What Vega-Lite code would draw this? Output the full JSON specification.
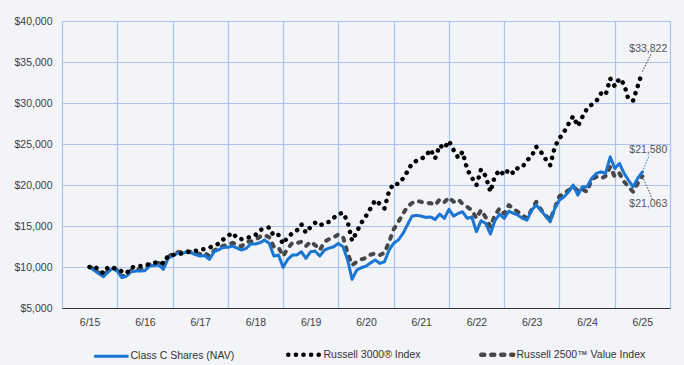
{
  "$schema": "https://vega.github.io/schema/vega-lite/v6.json",
  "autosize": "none",
  "width": 608,
  "height": 287,
  "padding": {"left": 62, "top": 21, "right": 14, "bottom": 57},
  "background": "#f2f4f8",
  "config": {
    "view": {"stroke": null},
    "font": "Liberation Sans",
    "axis": {"gridColor": "#a9c5ef", "gridWidth": 1.2, "labelFont": "Liberation Sans", "labelFontSize": 10.5, "labelColor": "#404040", "title": null},
    "legend": {"labelFont": "Liberation Sans"}
  },
  "data": {"values": [
    {"date":"2015-06-01","Class C Shares (NAV)":10000,"Russell 3000® Index":10000,"Russell 2500™ Value Index":10000},
    {"date":"2015-07-01","Class C Shares (NAV)":9600,"Russell 3000® Index":10117,"Russell 2500™ Value Index":9800},
    {"date":"2015-08-01","Class C Shares (NAV)":9200,"Russell 3000® Index":9630,"Russell 2500™ Value Index":9300},
    {"date":"2015-09-01","Class C Shares (NAV)":8810,"Russell 3000® Index":9230,"Russell 2500™ Value Index":9000},
    {"date":"2015-10-01","Class C Shares (NAV)":9400,"Russell 3000® Index":9960,"Russell 2500™ Value Index":9500},
    {"date":"2015-11-01","Class C Shares (NAV)":9840,"Russell 3000® Index":9950,"Russell 2500™ Value Index":9900},
    {"date":"2015-12-01","Class C Shares (NAV)":9500,"Russell 3000® Index":9715,"Russell 2500™ Value Index":9600},
    {"date":"2016-01-01","Class C Shares (NAV)":8700,"Russell 3000® Index":9450,"Russell 2500™ Value Index":8850},
    {"date":"2016-02-01","Class C Shares (NAV)":8900,"Russell 3000® Index":9230,"Russell 2500™ Value Index":9000},
    {"date":"2016-03-01","Class C Shares (NAV)":9420,"Russell 3000® Index":9960,"Russell 2500™ Value Index":9600},
    {"date":"2016-04-01","Class C Shares (NAV)":9500,"Russell 3000® Index":10000,"Russell 2500™ Value Index":9700},
    {"date":"2016-05-01","Class C Shares (NAV)":9510,"Russell 3000® Index":10117,"Russell 2500™ Value Index":9750},
    {"date":"2016-06-01","Class C Shares (NAV)":9550,"Russell 3000® Index":10200,"Russell 2500™ Value Index":9800},
    {"date":"2016-07-01","Class C Shares (NAV)":10120,"Russell 3000® Index":10360,"Russell 2500™ Value Index":10300},
    {"date":"2016-08-01","Class C Shares (NAV)":10200,"Russell 3000® Index":10500,"Russell 2500™ Value Index":10400},
    {"date":"2016-09-01","Class C Shares (NAV)":10240,"Russell 3000® Index":10640,"Russell 2500™ Value Index":10500},
    {"date":"2016-10-01","Class C Shares (NAV)":9720,"Russell 3000® Index":10440,"Russell 2500™ Value Index":10000},
    {"date":"2016-11-01","Class C Shares (NAV)":11050,"Russell 3000® Index":11340,"Russell 2500™ Value Index":11200},
    {"date":"2016-12-01","Class C Shares (NAV)":11350,"Russell 3000® Index":11460,"Russell 2500™ Value Index":11600},
    {"date":"2017-01-01","Class C Shares (NAV)":11660,"Russell 3000® Index":11550,"Russell 2500™ Value Index":11800},
    {"date":"2017-02-01","Class C Shares (NAV)":11700,"Russell 3000® Index":11650,"Russell 2500™ Value Index":11850},
    {"date":"2017-03-01","Class C Shares (NAV)":11800,"Russell 3000® Index":11790,"Russell 2500™ Value Index":11950},
    {"date":"2017-04-01","Class C Shares (NAV)":11740,"Russell 3000® Index":11850,"Russell 2500™ Value Index":11850},
    {"date":"2017-05-01","Class C Shares (NAV)":11500,"Russell 3000® Index":11980,"Russell 2500™ Value Index":11700},
    {"date":"2017-06-01","Class C Shares (NAV)":11340,"Russell 3000® Index":12100,"Russell 2500™ Value Index":11600},
    {"date":"2017-07-01","Class C Shares (NAV)":11400,"Russell 3000® Index":12200,"Russell 2500™ Value Index":11750},
    {"date":"2017-08-01","Class C Shares (NAV)":10930,"Russell 3000® Index":12350,"Russell 2500™ Value Index":11300},
    {"date":"2017-09-01","Class C Shares (NAV)":11860,"Russell 3000® Index":12600,"Russell 2500™ Value Index":12000},
    {"date":"2017-10-01","Class C Shares (NAV)":12100,"Russell 3000® Index":12830,"Russell 2500™ Value Index":12300},
    {"date":"2017-11-01","Class C Shares (NAV)":12390,"Russell 3000® Index":13370,"Russell 2500™ Value Index":12600},
    {"date":"2017-12-01","Class C Shares (NAV)":12400,"Russell 3000® Index":13800,"Russell 2500™ Value Index":12700},
    {"date":"2018-01-01","Class C Shares (NAV)":12550,"Russell 3000® Index":14170,"Russell 2500™ Value Index":12960},
    {"date":"2018-02-01","Class C Shares (NAV)":12300,"Russell 3000® Index":13490,"Russell 2500™ Value Index":12700},
    {"date":"2018-03-01","Class C Shares (NAV)":12070,"Russell 3000® Index":13400,"Russell 2500™ Value Index":12500},
    {"date":"2018-04-01","Class C Shares (NAV)":12270,"Russell 3000® Index":13490,"Russell 2500™ Value Index":13080},
    {"date":"2018-05-01","Class C Shares (NAV)":12800,"Russell 3000® Index":13700,"Russell 2500™ Value Index":13100},
    {"date":"2018-06-01","Class C Shares (NAV)":12800,"Russell 3000® Index":13900,"Russell 2500™ Value Index":13300},
    {"date":"2018-07-01","Class C Shares (NAV)":12960,"Russell 3000® Index":14500,"Russell 2500™ Value Index":13690},
    {"date":"2018-08-01","Class C Shares (NAV)":13280,"Russell 3000® Index":14700,"Russell 2500™ Value Index":13900},
    {"date":"2018-09-01","Class C Shares (NAV)":12880,"Russell 3000® Index":14830,"Russell 2500™ Value Index":13610},
    {"date":"2018-10-01","Class C Shares (NAV)":11330,"Russell 3000® Index":13770,"Russell 2500™ Value Index":12470},
    {"date":"2018-11-01","Class C Shares (NAV)":11460,"Russell 3000® Index":13900,"Russell 2500™ Value Index":12390},
    {"date":"2018-12-01","Class C Shares (NAV)":9960,"Russell 3000® Index":12800,"Russell 2500™ Value Index":11340},
    {"date":"2019-01-01","Class C Shares (NAV)":10930,"Russell 3000® Index":13690,"Russell 2500™ Value Index":12270},
    {"date":"2019-02-01","Class C Shares (NAV)":11460,"Russell 3000® Index":14100,"Russell 2500™ Value Index":12960},
    {"date":"2019-03-01","Class C Shares (NAV)":11460,"Russell 3000® Index":14420,"Russell 2500™ Value Index":12900},
    {"date":"2019-04-01","Class C Shares (NAV)":11860,"Russell 3000® Index":15200,"Russell 2500™ Value Index":13080},
    {"date":"2019-05-01","Class C Shares (NAV)":11060,"Russell 3000® Index":14170,"Russell 2500™ Value Index":12550},
    {"date":"2019-06-01","Class C Shares (NAV)":11860,"Russell 3000® Index":14900,"Russell 2500™ Value Index":13080},
    {"date":"2019-07-01","Class C Shares (NAV)":11940,"Russell 3000® Index":15390,"Russell 2500™ Value Index":12680},
    {"date":"2019-08-01","Class C Shares (NAV)":11340,"Russell 3000® Index":15030,"Russell 2500™ Value Index":12070},
    {"date":"2019-09-01","Class C Shares (NAV)":12070,"Russell 3000® Index":15400,"Russell 2500™ Value Index":13080},
    {"date":"2019-10-01","Class C Shares (NAV)":12300,"Russell 3000® Index":15510,"Russell 2500™ Value Index":13400},
    {"date":"2019-11-01","Class C Shares (NAV)":12470,"Russell 3000® Index":16000,"Russell 2500™ Value Index":13610},
    {"date":"2019-12-01","Class C Shares (NAV)":12880,"Russell 3000® Index":16450,"Russell 2500™ Value Index":13970},
    {"date":"2020-01-01","Class C Shares (NAV)":12470,"Russell 3000® Index":16610,"Russell 2500™ Value Index":13690},
    {"date":"2020-02-01","Class C Shares (NAV)":10850,"Russell 3000® Index":15510,"Russell 2500™ Value Index":11660},
    {"date":"2020-03-01","Class C Shares (NAV)":8500,"Russell 3000® Index":13200,"Russell 2500™ Value Index":10240},
    {"date":"2020-04-01","Class C Shares (NAV)":9630,"Russell 3000® Index":14300,"Russell 2500™ Value Index":10640},
    {"date":"2020-05-01","Class C Shares (NAV)":9920,"Russell 3000® Index":15390,"Russell 2500™ Value Index":10930},
    {"date":"2020-06-01","Class C Shares (NAV)":10100,"Russell 3000® Index":16210,"Russell 2500™ Value Index":11100},
    {"date":"2020-07-01","Class C Shares (NAV)":10500,"Russell 3000® Index":17150,"Russell 2500™ Value Index":11500},
    {"date":"2020-08-01","Class C Shares (NAV)":10850,"Russell 3000® Index":18160,"Russell 2500™ Value Index":11660},
    {"date":"2020-09-01","Class C Shares (NAV)":10440,"Russell 3000® Index":17670,"Russell 2500™ Value Index":11460},
    {"date":"2020-10-01","Class C Shares (NAV)":10640,"Russell 3000® Index":17150,"Russell 2500™ Value Index":11740},
    {"date":"2020-11-01","Class C Shares (NAV)":12070,"Russell 3000® Index":19290,"Russell 2500™ Value Index":13080},
    {"date":"2020-12-01","Class C Shares (NAV)":12900,"Russell 3000® Index":20190,"Russell 2500™ Value Index":14590},
    {"date":"2021-01-01","Class C Shares (NAV)":13300,"Russell 3000® Index":20110,"Russell 2500™ Value Index":15500},
    {"date":"2021-02-01","Class C Shares (NAV)":14100,"Russell 3000® Index":20800,"Russell 2500™ Value Index":16500},
    {"date":"2021-03-01","Class C Shares (NAV)":15110,"Russell 3000® Index":21610,"Russell 2500™ Value Index":17340},
    {"date":"2021-04-01","Class C Shares (NAV)":16210,"Russell 3000® Index":22630,"Russell 2500™ Value Index":17800},
    {"date":"2021-05-01","Class C Shares (NAV)":16300,"Russell 3000® Index":22950,"Russell 2500™ Value Index":18070},
    {"date":"2021-06-01","Class C Shares (NAV)":16210,"Russell 3000® Index":23200,"Russell 2500™ Value Index":17950},
    {"date":"2021-07-01","Class C Shares (NAV)":16050,"Russell 3000® Index":23520,"Russell 2500™ Value Index":17750},
    {"date":"2021-08-01","Class C Shares (NAV)":16100,"Russell 3000® Index":24340,"Russell 2500™ Value Index":17800},
    {"date":"2021-09-01","Class C Shares (NAV)":15800,"Russell 3000® Index":23240,"Russell 2500™ Value Index":17550},
    {"date":"2021-10-01","Class C Shares (NAV)":16450,"Russell 3000® Index":24860,"Russell 2500™ Value Index":18240},
    {"date":"2021-11-01","Class C Shares (NAV)":15930,"Russell 3000® Index":24450,"Russell 2500™ Value Index":17900},
    {"date":"2021-12-01","Class C Shares (NAV)":17030,"Russell 3000® Index":25380,"Russell 2500™ Value Index":18490},
    {"date":"2022-01-01","Class C Shares (NAV)":16210,"Russell 3000® Index":24250,"Russell 2500™ Value Index":17950},
    {"date":"2022-02-01","Class C Shares (NAV)":16540,"Russell 3000® Index":23310,"Russell 2500™ Value Index":18240},
    {"date":"2022-03-01","Class C Shares (NAV)":16730,"Russell 3000® Index":24040,"Russell 2500™ Value Index":17700},
    {"date":"2022-04-01","Class C Shares (NAV)":15930,"Russell 3000® Index":21900,"Russell 2500™ Value Index":17340},
    {"date":"2022-05-01","Class C Shares (NAV)":16100,"Russell 3000® Index":20920,"Russell 2500™ Value Index":16940},
    {"date":"2022-06-01","Class C Shares (NAV)":14300,"Russell 3000® Index":19990,"Russell 2500™ Value Index":15930},
    {"date":"2022-07-01","Class C Shares (NAV)":15640,"Russell 3000® Index":21900,"Russell 2500™ Value Index":16940},
    {"date":"2022-08-01","Class C Shares (NAV)":15320,"Russell 3000® Index":21080,"Russell 2500™ Value Index":16050},
    {"date":"2022-09-01","Class C Shares (NAV)":14020,"Russell 3000® Index":19170,"Russell 2500™ Value Index":14900},
    {"date":"2022-10-01","Class C Shares (NAV)":15640,"Russell 3000® Index":21080,"Russell 2500™ Value Index":16330},
    {"date":"2022-11-01","Class C Shares (NAV)":16450,"Russell 3000® Index":21810,"Russell 2500™ Value Index":17150},
    {"date":"2022-12-01","Class C Shares (NAV)":15930,"Russell 3000® Index":21200,"Russell 2500™ Value Index":16500},
    {"date":"2023-01-01","Class C Shares (NAV)":16800,"Russell 3000® Index":21900,"Russell 2500™ Value Index":17550},
    {"date":"2023-02-01","Class C Shares (NAV)":16540,"Russell 3000® Index":21410,"Russell 2500™ Value Index":17100},
    {"date":"2023-03-01","Class C Shares (NAV)":16330,"Russell 3000® Index":22090,"Russell 2500™ Value Index":16730},
    {"date":"2023-04-01","Class C Shares (NAV)":15930,"Russell 3000® Index":22200,"Russell 2500™ Value Index":16300},
    {"date":"2023-05-01","Class C Shares (NAV)":15720,"Russell 3000® Index":23000,"Russell 2500™ Value Index":15930},
    {"date":"2023-06-01","Class C Shares (NAV)":16940,"Russell 3000® Index":23520,"Russell 2500™ Value Index":17000},
    {"date":"2023-07-01","Class C Shares (NAV)":17550,"Russell 3000® Index":24660,"Russell 2500™ Value Index":17950},
    {"date":"2023-08-01","Class C Shares (NAV)":16900,"Russell 3000® Index":24040,"Russell 2500™ Value Index":17000},
    {"date":"2023-09-01","Class C Shares (NAV)":16200,"Russell 3000® Index":23150,"Russell 2500™ Value Index":16300},
    {"date":"2023-10-01","Class C Shares (NAV)":15510,"Russell 3000® Index":22420,"Russell 2500™ Value Index":15720},
    {"date":"2023-11-01","Class C Shares (NAV)":17150,"Russell 3000® Index":24660,"Russell 2500™ Value Index":17200},
    {"date":"2023-12-01","Class C Shares (NAV)":18160,"Russell 3000® Index":25670,"Russell 2500™ Value Index":18640},
    {"date":"2024-01-01","Class C Shares (NAV)":18560,"Russell 3000® Index":26480,"Russell 2500™ Value Index":18970},
    {"date":"2024-02-01","Class C Shares (NAV)":19170,"Russell 3000® Index":27500,"Russell 2500™ Value Index":19380},
    {"date":"2024-03-01","Class C Shares (NAV)":19990,"Russell 3000® Index":28390,"Russell 2500™ Value Index":19780},
    {"date":"2024-04-01","Class C Shares (NAV)":18770,"Russell 3000® Index":27170,"Russell 2500™ Value Index":19300},
    {"date":"2024-05-01","Class C Shares (NAV)":19780,"Russell 3000® Index":28310,"Russell 2500™ Value Index":19500},
    {"date":"2024-06-01","Class C Shares (NAV)":19800,"Russell 3000® Index":29330,"Russell 2500™ Value Index":19170},
    {"date":"2024-07-01","Class C Shares (NAV)":20800,"Russell 3000® Index":29800,"Russell 2500™ Value Index":20680},
    {"date":"2024-08-01","Class C Shares (NAV)":21410,"Russell 3000® Index":30220,"Russell 2500™ Value Index":21000},
    {"date":"2024-09-01","Class C Shares (NAV)":21610,"Russell 3000® Index":31160,"Russell 2500™ Value Index":20800},
    {"date":"2024-10-01","Class C Shares (NAV)":21410,"Russell 3000® Index":30950,"Russell 2500™ Value Index":21080},
    {"date":"2024-11-01","Class C Shares (NAV)":23430,"Russell 3000® Index":32990,"Russell 2500™ Value Index":22220},
    {"date":"2024-12-01","Class C Shares (NAV)":22020,"Russell 3000® Index":32040,"Russell 2500™ Value Index":21000},
    {"date":"2025-01-01","Class C Shares (NAV)":22630,"Russell 3000® Index":32990,"Russell 2500™ Value Index":21410},
    {"date":"2025-02-01","Class C Shares (NAV)":21410,"Russell 3000® Index":32290,"Russell 2500™ Value Index":20390},
    {"date":"2025-03-01","Class C Shares (NAV)":20600,"Russell 3000® Index":30460,"Russell 2500™ Value Index":19800},
    {"date":"2025-04-01","Class C Shares (NAV)":19780,"Russell 3000® Index":30300,"Russell 2500™ Value Index":19170},
    {"date":"2025-05-01","Class C Shares (NAV)":20800,"Russell 3000® Index":32000,"Russell 2500™ Value Index":20190},
    {"date":"2025-06-01","Class C Shares (NAV)":21580,"Russell 3000® Index":33822,"Russell 2500™ Value Index":21063}
  ]},
  "transform": [
    {"fold": ["Class C Shares (NAV)", "Russell 3000® Index", "Russell 2500™ Value Index"], "as": ["series", "value"]}
  ],
  "encoding": {
    "x": {
      "field": "date", "type": "temporal",
      "scale": {"type": "utc", "domain": [{"year": 2014, "month": 12, "date": 1, "utc": true}, {"year": 2025, "month": 12, "date": 1, "utc": true}]},
      "axis": {
        "values": [
          {"year": 2014, "month": 12, "date": 1, "utc": true},
          {"year": 2015, "month": 6, "date": 1, "utc": true},
          {"year": 2015, "month": 12, "date": 1, "utc": true},
          {"year": 2016, "month": 6, "date": 1, "utc": true},
          {"year": 2016, "month": 12, "date": 1, "utc": true},
          {"year": 2017, "month": 6, "date": 1, "utc": true},
          {"year": 2017, "month": 12, "date": 1, "utc": true},
          {"year": 2018, "month": 6, "date": 1, "utc": true},
          {"year": 2018, "month": 12, "date": 1, "utc": true},
          {"year": 2019, "month": 6, "date": 1, "utc": true},
          {"year": 2019, "month": 12, "date": 1, "utc": true},
          {"year": 2020, "month": 6, "date": 1, "utc": true},
          {"year": 2020, "month": 12, "date": 1, "utc": true},
          {"year": 2021, "month": 6, "date": 1, "utc": true},
          {"year": 2021, "month": 12, "date": 1, "utc": true},
          {"year": 2022, "month": 6, "date": 1, "utc": true},
          {"year": 2022, "month": 12, "date": 1, "utc": true},
          {"year": 2023, "month": 6, "date": 1, "utc": true},
          {"year": 2023, "month": 12, "date": 1, "utc": true},
          {"year": 2024, "month": 6, "date": 1, "utc": true},
          {"year": 2024, "month": 12, "date": 1, "utc": true},
          {"year": 2025, "month": 6, "date": 1, "utc": true},
          {"year": 2025, "month": 12, "date": 1, "utc": true}
        ],
        "labelExpr": "utcmonth(datum.value) == 5 ? utcFormat(datum.value, '%-m/%y') : ''",
        "grid": true,
        "gridOpacity": {"condition": {"test": "utcmonth(datum.value) == 11", "value": 1}, "value": 0},
        "ticks": false,
        "labelOverlap": false,
        "labelFlush": false,
        "labelPadding": 9,
        "domainColor": "#333333",
        "domainWidth": 1.2
      }
    },
    "y": {
      "field": "value", "type": "quantitative",
      "scale": {"domain": [5000, 40000], "nice": false},
      "axis": {
        "values": [5000, 10000, 15000, 20000, 25000, 30000, 35000, 40000],
        "format": "$,.0f",
        "domain": false,
        "ticks": false,
        "labelPadding": 10,
        "grid": true
      }
    }
  },
  "layer": [
    {
      "transform": [{"filter": "datum.series === 'Russell 2500™ Value Index'"}],
      "mark": {"type": "line", "strokeWidth": 4, "strokeCap": "round", "strokeJoin": "round"},
      "encoding": {
        "color": {"field": "series", "type": "nominal",
          "scale": {"domain": ["Class C Shares (NAV)", "Russell 3000® Index", "Russell 2500™ Value Index"], "range": ["#1a76d2", "#000000", "#474747"]},
          "legend": {"title": null, "orient": "none", "legendX": 44, "legendY": 328, "direction": "horizontal", "columns": 3, "gridAlign": "all", "columnPadding": 19, "symbolType": "stroke", "symbolSize": 1024, "symbolStrokeWidth": 4, "labelFontSize": 10.5, "labelColor": "#333333", "labelOffset": 14, "labelLimit": 300,
            "encode": {"symbols": {"update": {"strokeCap": {"value": "round"}, "strokeWidth": {"signal": "datum.value === 'Class C Shares (NAV)' ? 3 : 4.5"}, "strokeDash": {"signal": "datum.value === 'Russell 3000® Index' ? [0.1, 9.6] : datum.value === 'Russell 2500™ Value Index' ? [6, 8] : [1, 0]"}}}}}},
        "strokeDash": {"field": "series", "type": "nominal",
          "scale": {"domain": ["Class C Shares (NAV)", "Russell 3000® Index", "Russell 2500™ Value Index"], "range": [[1, 0], [0.1, 7.5], [3, 7]]},
          "legend": {"title": null, "orient": "none", "legendX": 44, "legendY": 328, "direction": "horizontal", "columns": 3, "gridAlign": "all", "columnPadding": 19, "symbolType": "stroke", "symbolSize": 1024, "symbolStrokeWidth": 4, "labelFontSize": 10.5, "labelColor": "#333333", "labelOffset": 14, "labelLimit": 300,
            "encode": {"symbols": {"update": {"strokeCap": {"value": "round"}, "strokeWidth": {"signal": "datum.value === 'Class C Shares (NAV)' ? 3 : 4.5"}, "strokeDash": {"signal": "datum.value === 'Russell 3000® Index' ? [0.1, 9.6] : datum.value === 'Russell 2500™ Value Index' ? [6, 8] : [1, 0]"}}}}}}
      }
    },
    {
      "transform": [{"filter": "datum.series === 'Class C Shares (NAV)'"}],
      "mark": {"type": "line", "strokeWidth": 3, "strokeCap": "round", "strokeJoin": "round"},
      "encoding": {
        "color": {"field": "series", "type": "nominal",
          "scale": {"domain": ["Class C Shares (NAV)", "Russell 3000® Index", "Russell 2500™ Value Index"], "range": ["#1a76d2", "#000000", "#474747"]}},
        "strokeDash": {"field": "series", "type": "nominal",
          "scale": {"domain": ["Class C Shares (NAV)", "Russell 3000® Index", "Russell 2500™ Value Index"], "range": [[1, 0], [0.1, 7.5], [3, 7]]}}
      }
    },
    {
      "transform": [{"filter": "datum.series === 'Russell 3000® Index'"}],
      "mark": {"type": "line", "strokeWidth": 4.5, "strokeCap": "round", "strokeJoin": "round"},
      "encoding": {
        "color": {"field": "series", "type": "nominal",
          "scale": {"domain": ["Class C Shares (NAV)", "Russell 3000® Index", "Russell 2500™ Value Index"], "range": ["#1a76d2", "#000000", "#474747"]}},
        "strokeDash": {"field": "series", "type": "nominal",
          "scale": {"domain": ["Class C Shares (NAV)", "Russell 3000® Index", "Russell 2500™ Value Index"], "range": [[1, 0], [0.1, 7.5], [3, 7]]}}
      }
    },
    {
      "transform": [{"filter": "datum.series === 'Russell 3000® Index' && utcyear(datum.date) == 2025 && utcmonth(datum.date) == 5"}],
      "mark": {"type": "rule", "x2Offset": 9, "y2Offset": -18, "strokeDash": [1.5, 1.5], "strokeWidth": 1, "color": "#333333"},
      "encoding": {"x2": {"field": "date"}, "y2": {"field": "value"}}
    },
    {
      "transform": [{"filter": "datum.series === 'Class C Shares (NAV)' && utcyear(datum.date) == 2025 && utcmonth(datum.date) == 5"}],
      "mark": {"type": "rule", "x2Offset": 7, "y2Offset": -17, "strokeDash": [1.5, 1.5], "strokeWidth": 1, "color": "#1a76d2"},
      "encoding": {"x2": {"field": "date"}, "y2": {"field": "value"}}
    },
    {
      "transform": [{"filter": "datum.series === 'Russell 2500™ Value Index' && utcyear(datum.date) == 2025 && utcmonth(datum.date) == 5"}],
      "mark": {"type": "rule", "x2Offset": 10, "y2Offset": 23, "strokeDash": [1.5, 1.5], "strokeWidth": 1, "color": "#474747"},
      "encoding": {"x2": {"field": "date"}, "y2": {"field": "value"}}
    },
    {
      "transform": [{"filter": "datum.series === 'Russell 3000® Index' && utcyear(datum.date) == 2025 && utcmonth(datum.date) == 5"}],
      "mark": {"type": "text", "dx": 6, "dy": -23, "fontSize": 10.5, "font": "Liberation Sans", "color": "#555555", "align": "center", "baseline": "middle"},
      "encoding": {"text": {"field": "value", "type": "quantitative", "format": "$,.0f"}}
    },
    {
      "transform": [{"filter": "datum.series === 'Class C Shares (NAV)' && utcyear(datum.date) == 2025 && utcmonth(datum.date) == 5"}],
      "mark": {"type": "text", "dx": 6, "dy": -22, "fontSize": 10.5, "font": "Liberation Sans", "color": "#555555", "align": "center", "baseline": "middle"},
      "encoding": {"text": {"field": "value", "type": "quantitative", "format": "$,.0f"}}
    },
    {
      "transform": [{"filter": "datum.series === 'Russell 2500™ Value Index' && utcyear(datum.date) == 2025 && utcmonth(datum.date) == 5"}],
      "mark": {"type": "text", "dx": 6, "dy": 28, "fontSize": 10.5, "font": "Liberation Sans", "color": "#555555", "align": "center", "baseline": "middle"},
      "encoding": {"text": {"field": "value", "type": "quantitative", "format": "$,.0f"}}
    }
  ]
}
